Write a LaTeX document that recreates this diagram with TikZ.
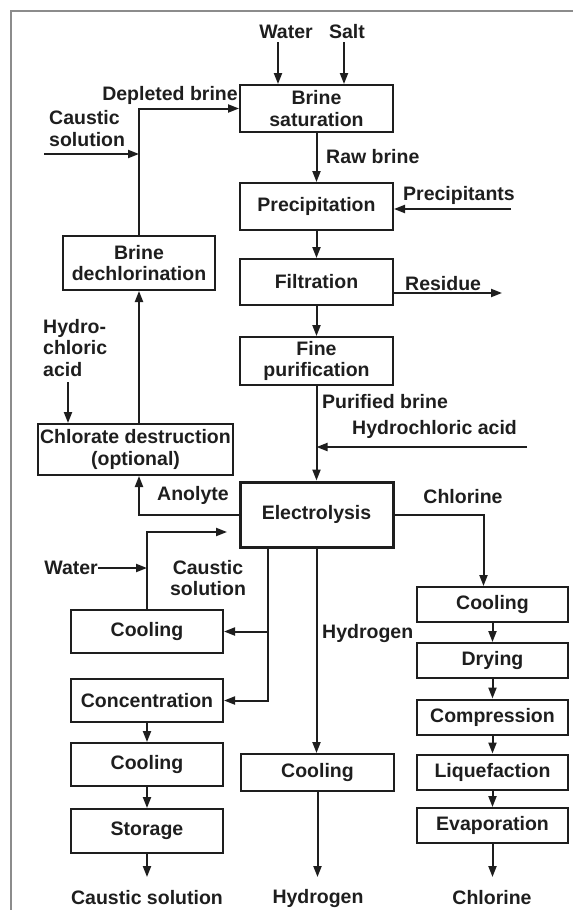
\documentclass[tikz,border=0pt]{standalone}
\usepackage{fontspec}
\setmainfont{Liberation Sans}
\usetikzlibrary{positioning, arrows.meta, calc}
\definecolor{ink}{HTML}{1E1E1E}
\definecolor{framegray}{HTML}{8C8C8C}

\begin{document}
\begin{tikzpicture}[
  x=1pt, y=-1pt,
  every node/.style={font=\bfseries\fontsize{19.5}{21.5}\selectfont, text=ink},
  box/.style={rectangle, draw=ink, line width=2pt, align=center, inner sep=0pt, minimum width=152pt},
  mainbox/.style={box, minimum width=153pt},
  sidebox/.style={box, minimum width=151pt, minimum height=35pt},
  lbl/.style={inner sep=0pt, align=left},
  arr/.style={-{Triangle[length=11pt,width=8pt]}, draw=ink, line width=2pt}
]
\useasboundingbox (0,0) rectangle (573,910);
\draw[framegray, line width=1.5pt] (11,910) -- (11,11) -- (573,11);

% brine line
\node[mainbox, minimum height=47pt] (sat) at (316.5,108.5) {Brine\\saturation};
\node[mainbox, minimum height=47pt] (prec) at (316.5,206.5) {Precipitation};
\node[mainbox, minimum height=46pt] (filt) at (316.5,282) {Filtration};
\node[mainbox, minimum height=48pt] (fine) at (316.5,361) {Fine\\purification};
\node[mainbox, minimum height=65pt, line width=3pt] (elec) at (316.5,514.5) {Electrolysis};

% depleted brine loop
\node[box, minimum height=54pt] (dechl) at (139,263) {Brine\\dechlorination};
\node[box, minimum width=195pt, minimum height=51pt] (chlor) at (135.5,449.5) {Chlorate destruction\\(optional)};

% caustic, hydrogen, chlorine
\node[box, minimum height=43pt] (coolA) at (147,631.5) {Cooling};
\node[box, minimum height=43pt] (conc) at (147,700.5) {Concentration};
\node[box, minimum height=43pt] (coolB) at (147,764.5) {Cooling};
\node[box, minimum height=44pt] (stor) at (147,831) {Storage};
\node[mainbox, minimum height=37pt] (coolH) at (317.5,772.5) {Cooling};
\node[sidebox] (coolC) at (492.5,604.5) {Cooling};
\node[sidebox] (dry) at (492.5,660.5) {Drying};
\node[sidebox] (comp) at (492.5,717) {Compression};
\node[sidebox] (liq) at (492.5,772) {Liquefaction};
\node[sidebox] (evap) at (492.5,825.5) {Evaporation};

% stream labels
\node[lbl] (water) at (286,32) {Water};
\node[lbl] (salt) at (347,32) {Salt};
\node[lbl] (depl) at (170,95) {Depleted brine};
\node[lbl, anchor=west] (caustA) at (49,128.5) {Caustic\\solution};
\node[lbl, anchor=west] (raw) at (326,157) {Raw brine};
\node[lbl, anchor=west] (precip) at (403,195) {Precipitants};
\node[lbl, anchor=west] (resid) at (405,284) {Residue};
\node[lbl, anchor=west] (pur) at (322,402) {Purified brine};
\node[lbl, anchor=west] (hclA) at (352,429) {Hydrochloric acid};
\node[lbl, anchor=west] (hclB) at (43,348) {Hydro-\\chloric\\acid};
\node[lbl] (anol) at (193,495) {Anolyte};
\node[lbl] (chlorine) at (463,497) {Chlorine};
\node[lbl, anchor=east] (waterB) at (98,568) {Water};
\node[lbl, align=center] (caustB) at (208,578) {Caustic\\solution};
\node[lbl, anchor=west] (hydro) at (322,633) {Hydrogen};
\node[lbl] (outC) at (147,898) {Caustic solution};
\node[lbl] (outH) at (318,898) {Hydrogen};
\node[lbl] (outCl) at (492,898) {Chlorine};

% free ends
\coordinate (waterin) at (278,42);
\coordinate (saltin) at (344,42);
\coordinate (causin) at (44,154);
\coordinate (precin) at (511,209);
\coordinate (resout) at (502,293);
\coordinate (hclin) at (527,447);
\coordinate (hclfeed) at (68,382);
\coordinate (caustret) at (227,532);
\coordinate (causjn) at (268,701);
\coordinate (outy) at (0,877);

\draw[arr] (waterin) -- (waterin |- sat.north);
\draw[arr] (saltin) -- (saltin |- sat.north);
\draw[arr] (sat) -- (prec);
\draw[arr] (prec) -- (filt);
\draw[arr] (filt) -- (fine);
\draw[arr] (fine) -- (elec);
\draw[arr] (precin) -- (prec.east |- precin);
\draw[arr] (filt.east |- resout) -- (resout);
\draw[arr] (hclin) -- (hclin -| fine.south);
\draw[arr] (dechl.north) |- (sat.west);
\draw[arr] (causin) -- (causin -| dechl.north);
\draw[arr] (chlor.north -| dechl.south) -- (dechl.south);
\draw[arr] (hclfeed) -- (hclfeed |- chlor.north);
\draw[arr] (elec.west) -| (chlor.south -| dechl.south);
\draw[arr] (coolA.north) |- (caustret);
\draw[arr] (waterB.east) -- (waterB.east -| coolA.north);
\draw[arr] (elec.south -| causjn) |- (conc.east);
\draw[arr] (causjn |- coolA.east) -- (coolA.east);
\draw[arr] (conc) -- (coolB);
\draw[arr] (coolB) -- (stor);
\draw[arr] (stor.south) -- (stor.south |- outy);
\draw[arr] (elec.south) -- (elec.south |- coolH.north);
\draw[arr] (coolH.south) -- (coolH.south |- outy);
\draw[arr] (elec.east) -| ($(coolC.north)+(-9,0)$);
\draw[arr] (coolC) -- (dry);
\draw[arr] (dry) -- (comp);
\draw[arr] (comp) -- (liq);
\draw[arr] (liq) -- (evap);
\draw[arr] (evap.south) -- (evap.south |- outy);
\end{tikzpicture}
\end{document}
